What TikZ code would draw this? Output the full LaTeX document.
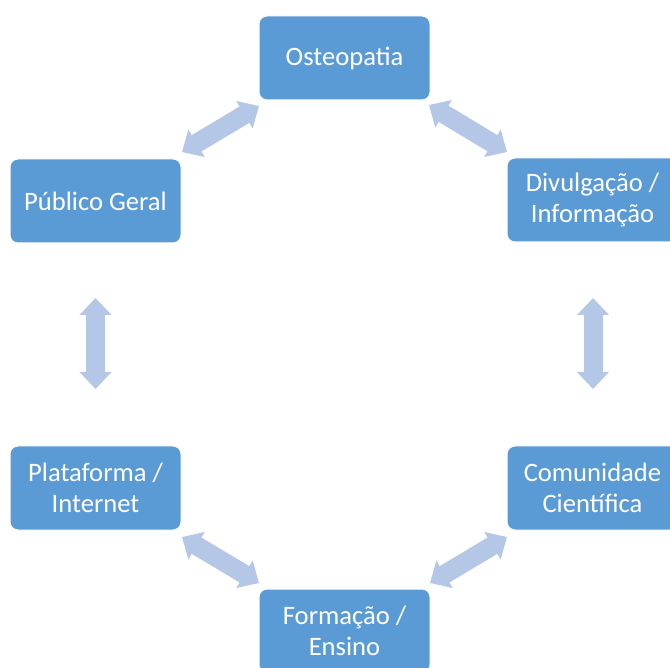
\documentclass[tikz,border=0pt]{standalone}
\usepackage{fontspec}
\setmainfont{Carlito}
\usetikzlibrary{arrows.meta}
\definecolor{boxblue}{HTML}{5B9BD5}
\definecolor{arrblue}{HTML}{B4C7E7}
\tikzset{
  box/.style={rectangle, rounded corners=8pt, fill=boxblue, draw=white, line width=1pt,
    minimum width=171pt, minimum height=84pt, text=white, align=center,
    font=\fontsize{26.6pt}{30.5pt}\selectfont, inner sep=0pt},
  dbl/.style={draw=arrblue, line width=19pt,
    {Triangle[width=31pt,length=17pt]}-{Triangle[width=31pt,length=17pt]}}
}
\begin{document}
\begin{tikzpicture}[x=1pt,y=-1pt]
\path[use as bounding box] (0,0) rectangle (670,668);
\clip (0,0) rectangle (670,668);
\fill[white] (0,0) rectangle (670,668);
\node[box] (ost) at (344.5,58) {Osteopatia};
\node[box] (div) at (592.5,200) {Divulgação /\\Informação};
\node[box] (com) at (592.5,488) {Comunidade\\Científica};
\node[box] (for) at (344.5,631) {Formação /\\Ensino};
\node[box] (pla) at (95.5,488) {Plataforma /\\Internet};
\node[box] (pub) at (95.5,201) {Público Geral};
\coordinate (a1) at (182,152);
\coordinate (a2) at (259,106);
\coordinate (b1) at (429,105);
\coordinate (b2) at (507,152);
\coordinate (c1) at (593,298);
\coordinate (c2) at (593,389);
\coordinate (d1) at (507,537);
\coordinate (d2) at (430,583);
\coordinate (e1) at (259,583);
\coordinate (e2) at (182,537);
\coordinate (f1) at (95.5,389);
\coordinate (f2) at (95.5,298);
\draw[dbl] (a1) -- (a2);
\draw[dbl] (b1) -- (b2);
\draw[dbl] (c1) -- (c2);
\draw[dbl] (d1) -- (d2);
\draw[dbl] (e1) -- (e2);
\draw[dbl] (f1) -- (f2);
\end{tikzpicture}
\end{document}
